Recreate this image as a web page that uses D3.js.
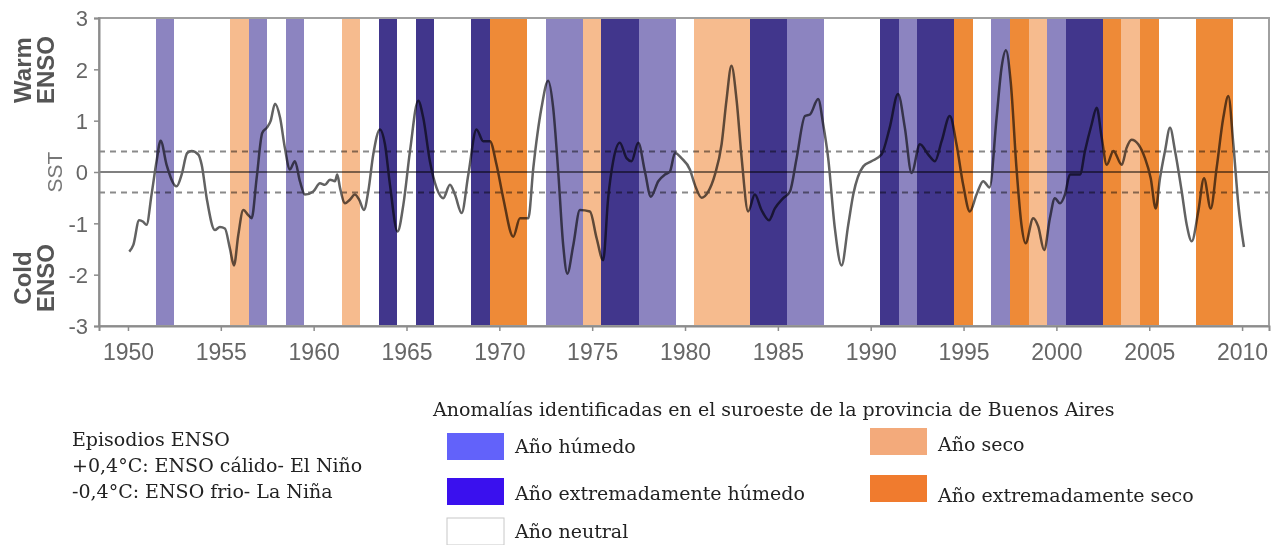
<!DOCTYPE html>
<html>
<head>
<meta charset="utf-8">
<script src="https://cdn.jsdelivr.net/npm/d3@7/dist/d3.min.js"></script>
<style>
  body { margin: 0; background: #fff; }
  svg { display: block; }
</style>
</head>
<body>
<svg id="chart" width="1281" height="545"></svg>
<script>
// Niño 3.4 sea-surface temperature anomaly (°C), smoothed series
const sstYears = [
  1950.07, 1950.29, 1950.60, 1950.82, 1951.00, 1951.27, 1951.54, 1951.76, 1952.08, 1952.62,
  1952.89, 1953.19, 1953.43, 1953.79, 1953.97, 1954.24, 1954.68, 1954.95, 1955.22, 1955.49,
  1955.71, 1955.94, 1956.21, 1956.48, 1956.66, 1956.93, 1957.23, 1957.47, 1957.68, 1957.92,
  1958.19, 1958.45, 1958.72, 1958.99, 1959.26, 1959.53, 1959.98, 1960.34, 1960.61, 1960.88,
  1961.15, 1961.27, 1961.42, 1961.69, 1961.95, 1962.22, 1962.45, 1962.71, 1962.94, 1963.21,
  1963.57, 1963.84, 1964.11, 1964.52, 1964.83, 1965.19, 1965.63, 1965.90, 1966.26, 1966.62,
  1966.98, 1967.34, 1967.61, 1967.97, 1968.33, 1968.77, 1969.13, 1969.49, 1969.85, 1970.21,
  1970.75, 1971.11, 1971.56, 1971.83, 1972.27, 1972.63, 1972.90, 1973.17, 1973.44, 1973.66,
  1973.98, 1974.34, 1974.88, 1975.24, 1975.59, 1975.86, 1976.13, 1976.49, 1976.85, 1977.12,
  1977.48, 1977.84, 1978.16, 1978.56, 1978.92, 1979.19, 1979.46, 1979.81, 1980.26, 1980.53,
  1980.89, 1981.25, 1981.61, 1981.97, 1982.23, 1982.50, 1982.78, 1983.05, 1983.40, 1983.76,
  1984.12, 1984.52, 1984.84, 1985.29, 1985.65, 1986.01, 1986.46, 1986.73, 1987.17, 1987.44,
  1987.71, 1988.07, 1988.43, 1988.79, 1989.06, 1989.60, 1990.04, 1990.58, 1991.02, 1991.47,
  1991.84, 1992.20, 1992.65, 1993.10, 1993.46, 1993.82, 1994.26, 1994.62, 1994.98, 1995.34,
  1995.70, 1996.06, 1996.40, 1996.78, 1997.05, 1997.28, 1997.55, 1997.85, 1998.12, 1998.34,
  1998.75, 1999.02, 1999.34, 1999.65, 1999.92, 2000.19, 2000.46, 2000.73, 2001.00, 2001.27,
  2001.54, 2001.90, 2002.17, 2002.44, 2002.71, 2003.07, 2003.52, 2003.78, 2004.05, 2004.41,
  2004.77, 2005.08, 2005.35, 2005.58, 2005.85, 2006.12, 2006.39, 2006.75, 2007.02, 2007.29,
  2007.64, 2007.95, 2008.31, 2008.63, 2008.99, 2009.26, 2009.53, 2009.80, 2010.10
];
const sstValues = [
  -1.55, -1.42, -0.94, -0.97, -1.03, -0.44, 0.21, 0.61, 0.14, -0.28,
  -0.05, 0.37, 0.41, 0.34, 0.14, -0.51, -1.13, -1.07, -1.10, -1.49,
  -1.82, -1.23, -0.74, -0.84, -0.90, -0.12, 0.76, 0.86, 0.99, 1.33,
  1.06, 0.47, 0.05, 0.21, -0.18, -0.44, -0.38, -0.22, -0.25, -0.15,
  -0.18, -0.05, -0.31, -0.61, -0.54, -0.44, -0.54, -0.74, -0.38, 0.34,
  0.83, 0.54, -0.25, -1.16, -0.64, 0.41, 1.39, 1.06, 0.21, -0.31,
  -0.51, -0.25, -0.44, -0.80, -0.05, 0.83, 0.60, 0.60, 0.14, -0.51,
  -1.26, -0.90, -0.90, 0.08, 1.25, 1.78, 1.25, 0.01, -1.43, -1.98,
  -1.43, -0.74, -0.77, -1.29, -1.72, -0.51, 0.21, 0.57, 0.27, 0.21,
  0.57, 0.01, -0.48, -0.18, -0.05, 0.01, 0.37, 0.27, 0.05, -0.25,
  -0.50, -0.38, -0.05, 0.54, 1.39, 2.07, 1.39, 0.27, -0.77, -0.44,
  -0.74, -0.94, -0.71, -0.51, -0.38, 0.27, 1.09, 1.12, 1.42, 0.93,
  0.27, -1.10, -1.82, -1.03, -0.44, 0.11, 0.21, 0.34, 0.86, 1.52,
  0.86, -0.02, 0.54, 0.34, 0.21, 0.60, 1.09, 0.54, -0.25, -0.77,
  -0.44, -0.18, -0.30, 1.06, 2.04, 2.37, 1.71, 0.08, -1.03, -1.39,
  -0.90, -1.06, -1.52, -0.90, -0.51, -0.61, -0.44, -0.05, -0.05, -0.05,
  0.41, 0.93, 1.25, 0.67, 0.14, 0.41, 0.14, 0.47, 0.63, 0.54,
  0.27, -0.12, -0.71, -0.12, 0.41, 0.86, 0.41, -0.38, -1.03, -1.35,
  -0.77, -0.12, -0.71, 0.08, 1.06, 1.48, 0.54, -0.64, -1.46
];

// Rainfall anomaly years in the south-west of Buenos Aires province
// h = húmedo, eh = extremadamente húmedo, s = seco, es = extremadamente seco
const anomalyYears = [
  1952, 1956, 1957, 1959, 1962, 1964, 1966, 1969, 1970, 1971,
  1973, 1974, 1975, 1976, 1977, 1978, 1979, 1981, 1982, 1983,
  1984, 1985, 1986, 1987, 1991, 1992, 1993, 1994, 1995, 1997,
  1998, 1999, 2000, 2001, 2002, 2003, 2004, 2005, 2008, 2009
];
const anomalyTypes = [
  "h", "s", "h", "h", "s", "eh", "eh", "eh", "es", "es",
  "h", "h", "s", "eh", "eh", "h", "h", "s", "s", "s",
  "eh", "eh", "h", "h", "eh", "h", "eh", "eh", "es", "h",
  "es", "s", "h", "eh", "eh", "es", "s", "es", "es", "es"
];

const xTicks = [1950, 1955, 1960, 1965, 1970, 1975, 1980, 1985, 1990, 1995, 2000, 2005, 2010];
const yTicks = [-3, -2, -1, 0, 1, 2, 3];
const thresholds = [0.4, -0.4];

const legendTypes = ["h", "eh", "n", "s", "es"];
const legendLabels = ["Año húmedo", "Año extremadamente húmedo", "Año neutral", "Año seco", "Año extremadamente seco"];
const episodeLines = ["Episodios ENSO", "+0,4°C: ENSO cálido- El Niño", "-0,4°C: ENSO frio- La Niña"];
const legendTitle = "Anomalías identificadas en el suroeste  de la provincia de Buenos Aires";

// colours of the bands inside the plot and of the legend swatches
const bandColor = { h: "#8c84c0", eh: "#41368c", s: "#f6bb8e", es: "#ee8a37" };
const swatchColor = { h: "#6262fa", eh: "#3a10ee", n: "#ffffff", s: "#f3aa7b", es: "#f07b2e" };

const svg = d3.select("#chart");
svg.append("rect").attr("width", 1281).attr("height", 545).attr("fill", "#fff");

const plot = { left: 99, right: 1269, top: 18, bottom: 326 };

const x = d3.scaleLinear().domain([1948.44, 2011.45]).range([plot.left, plot.right]);
const y = d3.scaleLinear().domain([-3, 3]).range([plot.bottom, plot.top]);

// consecutive years of the same class are joined into one band
const runs = [];
anomalyYears.forEach((yr, i) => {
  const t = anomalyTypes[i];
  const last = runs[runs.length - 1];
  if (last && last.t === t && last.end === yr - 1) last.end = yr;
  else runs.push({ t, start: yr, end: yr });
});

const bands = svg.append("g").attr("shape-rendering", "crispEdges");
bands.selectAll("rect")
  .data(runs)
  .join("rect")
  .attr("x", d => x(d.start - 0.5))
  .attr("width", d => x(d.end + 0.5) - x(d.start - 0.5))
  .attr("y", y(3))
  .attr("height", y(-3) - y(3))
  .attr("fill", d => bandColor[d.t]);

// reference lines and the SST curve, multiplied onto the bands
const over = svg.append("g").style("mix-blend-mode", "multiply");

over.append("line")
  .attr("x1", plot.left).attr("x2", plot.right)
  .attr("y1", y(0)).attr("y2", y(0))
  .attr("stroke", "#808080").attr("stroke-width", 2);

over.selectAll("line.thr")
  .data(thresholds)
  .join("line")
  .attr("class", "thr")
  .attr("x1", plot.left).attr("x2", plot.right)
  .attr("y1", d => y(d)).attr("y2", d => y(d))
  .attr("stroke", "#8a8a8a").attr("stroke-width", 2)
  .attr("stroke-dasharray", "6,5");

const line = d3.line()
  .x((d, i) => x(sstYears[i]))
  .y(d => y(d))
  .curve(d3.curveMonotoneX);

over.append("path")
  .attr("d", line(sstValues))
  .attr("fill", "none")
  .attr("stroke", "#626262")
  .attr("stroke-width", 2.5)
  .attr("stroke-linejoin", "round");

// frame
svg.append("rect")
  .attr("x", plot.left).attr("y", plot.top)
  .attr("width", plot.right - plot.left).attr("height", plot.bottom - plot.top)
  .attr("fill", "none").attr("stroke", "#a0a0a0").attr("stroke-width", 2);

// axes
const xAxis = svg.append("g")
  .attr("transform", `translate(0,${plot.bottom})`)
  .call(d3.axisBottom(x).tickValues(xTicks).tickFormat(d3.format("d")).tickSize(5).tickPadding(13));
const yAxis = svg.append("g")
  .attr("transform", `translate(${plot.left},0)`)
  .call(d3.axisLeft(y).tickValues(yTicks).tickFormat(d => d < 0 ? "-" + Math.abs(d) : String(d)).tickSize(5).tickPadding(6));

[xAxis, yAxis].forEach(g => {
  g.select(".domain").attr("stroke", "#8c8c8c").attr("stroke-width", 2);
  g.selectAll(".tick line").attr("stroke", "#8c8c8c").attr("stroke-width", 1.5);
  g.selectAll(".tick text")
    .attr("fill", "#666")
    .style("font-family", "'Liberation Sans', Arial, sans-serif");
});
xAxis.selectAll(".tick text").style("font-size", "23px");
yAxis.selectAll(".tick text").style("font-size", "22px").attr("dy", "0.36em");

// rotated side titles
function sideLabel(lines, cx, cy, weight, size, color) {
  const g = svg.append("g").attr("transform", `translate(${cx},${cy}) rotate(-90)`);
  lines.forEach((t, i) => {
    g.append("text")
      .attr("x", 0)
      .attr("y", i * size * 0.95)
      .attr("text-anchor", "middle")
      .style("font-family", "'Liberation Sans', Arial, sans-serif")
      .style("font-size", size + "px")
      .style("font-weight", weight)
      .attr("fill", color)
      .text(t);
  });
}
sideLabel(["Warm", "ENSO"], 31, 70, "bold", 24, "#555");
sideLabel(["SST"], 62, 172, "normal", 21, "#777");
sideLabel(["Cold", "ENSO"], 31, 278, "bold", 24, "#555");

// legend
const serif = "'DejaVu Serif', 'Liberation Serif', serif";
const textSize = "19px";
svg.append("text")
  .attr("x", 433).attr("y", 416)
  .style("font-family", serif).style("font-size", textSize).attr("fill", "#222")
  .text(legendTitle);

const episodes = svg.append("g");
episodeLines.forEach((t, i) => {
  episodes.append("text")
    .attr("x", 72).attr("y", 446 + i * 26)
    .style("font-family", serif).style("font-size", textSize).attr("fill", "#222")
    .text(t);
});

const legendPos = [
  { sx: 447, sy: 433, ty: 453 },
  { sx: 447, sy: 478, ty: 500 },
  { sx: 447, sy: 518, ty: 538 },
  { sx: 870, sy: 428, ty: 451 },
  { sx: 870, sy: 475, ty: 502 }
];
const legend = svg.append("g");
legendTypes.forEach((t, i) => {
  const p = legendPos[i];
  legend.append("rect")
    .attr("x", p.sx).attr("y", p.sy).attr("width", 57).attr("height", 27)
    .attr("fill", swatchColor[t])
    .attr("stroke", t === "n" ? "#c8c8c8" : "none").attr("stroke-width", 1);
  legend.append("text")
    .attr("x", p.sx + 68).attr("y", p.ty)
    .style("font-family", serif).style("font-size", textSize).attr("fill", "#222")
    .text(legendLabels[i]);
});
</script>
</body>
</html>
